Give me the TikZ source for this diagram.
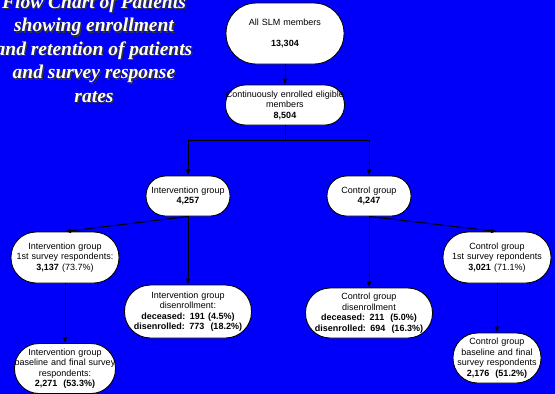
\documentclass[tikz,border=0pt]{standalone}
\usepackage{fontspec}
\setmainfont{Liberation Sans}
\newfontfamily\titlefont{Liberation Serif}
\usetikzlibrary{arrows.meta}
\definecolor{bg}{RGB}{0,0,250}
\begin{document}
\begin{tikzpicture}[x=1pt,y=-1pt,
  font=\fontsize{9}{10.5}\selectfont,
  box/.style={draw=black, fill=white, line width=0.9pt, inner xsep=0pt, inner ysep=0pt, align=center},
  conn/.style={draw=black, line width=1pt},
  arr/.style={conn, -{Latex[length=6pt,width=5pt]}},
  ttl/.style={font=\titlefont\bfseries\itshape\fontsize{19.5}{23.5}\selectfont, align=center, inner sep=0pt}]
\fill[bg] (0,0) rectangle (555,394);
\useasboundingbox (0,0) rectangle (555,394);
% title
\node[ttl, text=black!80] (tshadow) at (95.5,50) {Flow Chart of Patients\\showing enrollment\\and retention of patients\\and survey response\\rates};
\node[ttl, text=white] (title) at (94,48.5) {Flow Chart of Patients\\showing enrollment\\and retention of patients\\and survey response\\rates};
% boxes
\node[box, text width=118pt, minimum height=61pt, rounded corners=30pt] (top) at (285,33.5) {All SLM members\\[10.5pt]\textbf{13,304}};
\node[box, text width=119pt, minimum height=40pt, rounded corners=19.5pt] (cont) at (285,105) {Continuously enrolled eligible\\members\\\textbf{8,504}};
\node[box, text width=84pt, minimum height=40pt, rounded corners=19.5pt] (int) at (188,196) {Intervention group\\\textbf{4,257}};
\node[box, text width=84pt, minimum height=40pt, rounded corners=19.5pt] (ctl) at (369,196) {Control group\\\textbf{4,247}};
\node[box, text width=108pt, minimum height=51pt, rounded corners=25pt] (int1) at (65,257.5) {Intervention group\\1st survey respondents:\\\textbf{3,137} (73.7\%)};
\node[box, text width=127pt, minimum height=53pt, rounded corners=26pt] (intd) at (188,311.5) {Intervention group\\disenrollment:\\\textbf{deceased: 191 (4.5\%)}\\\textbf{disenrolled: 773\ \ (18.2\%)}};
\node[box, text width=108pt, minimum height=51pt, rounded corners=25pt] (ctl1) at (497,257.5) {Control group\\1st survey repondents\\\textbf{3,021} (71.1\%)};
\node[box, text width=127pt, minimum height=50pt, rounded corners=24.5pt] (ctld) at (369,313) {Control group\\disenrollment\\\textbf{deceased: 211\ \ (5.0\%)}\\\textbf{disenrolled: 694\ \ (16.3\%)}};
\node[box, text width=101pt, minimum height=50pt, rounded corners=24.5pt] (intb) at (65,368.5) {Intervention group\\baseline and final survey\\respondents:\\\textbf{2,271\ \ (53.3\%)}};
\node[box, text width=88pt, minimum height=50pt, rounded corners=24.5pt] (ctlb) at (497,358) {Control group\\baseline and final\\survey respondents\\\textbf{2,176\ \ (51.2\%)}};
% connectors
\coordinate (split) at (285,140);
\draw[arr] (top) -- (cont);
\draw[conn] (cont.south) -- (split);
\draw[arr] (split) -| (int.north);
\draw[arr] (split) -| (ctl.north);
\draw[arr] (int.south) -- (int1.north);
\draw[arr] (int.south) -- (intd.north);
\draw[arr] (ctl.south) -- (ctl1.north);
\draw[arr] (ctl.south) -- (ctld.north);
\draw[arr] (int1.south) -- (intb.north);
\draw[arr] (ctl1.south) -- (ctlb.north);
\end{tikzpicture}
\end{document}
